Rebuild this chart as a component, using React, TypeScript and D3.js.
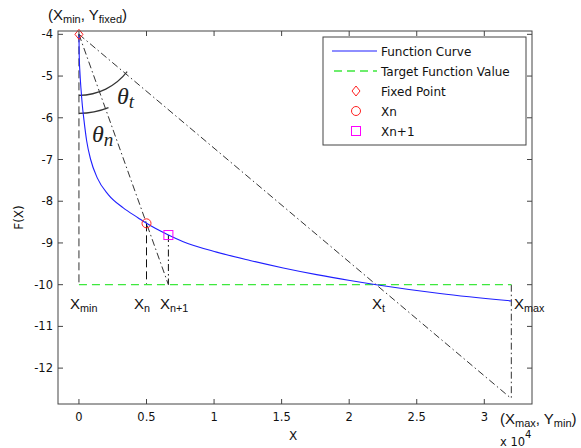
import React from "react";
import * as d3 from "d3";

const width = 581;
const height = 448;
const box = { left: 58, right: 532, top: 31, bottom: 404 };

// curve samples (x in raw units, axis shows x 10^4)
const curveX = [0, 20, 70, 150, 250, 370, 570, 866, 1355, 2170, 3280, 4390, 5000, 6620, 7720, 10190, 12660, 15120, 17590, 20060, 22000, 26720, 32000];
const curveY = [-4, -4.5, -4.9, -5.3, -5.7, -6.05, -6.55, -7.0, -7.44, -7.84, -8.16, -8.4, -8.53, -8.81, -8.97, -9.22, -9.42, -9.6, -9.76, -9.9, -10.0, -10.21, -10.39];

const xTickValues = [0, 5000, 10000, 15000, 20000, 25000, 30000];
const xTickLabels = ["0", "0.5", "1", "1.5", "2", "2.5", "3"];
const yTickValues = [-4, -5, -6, -7, -8, -9, -10, -11, -12];
const yTickLabels = ["-4", "-5", "-6", "-7", "-8", "-9", "-10", "-11", "-12"];

const fixedPoint = [0, -4];
const xnPoint = [5000, -8.53];
const xn1Point = [6620, -8.81];
const xtValue = 22000;
const targetValue = -10;
const xMax = 32000;
const yMin = -12.73;

const legendLabels = ["Function Curve", "Target Function Value", "Fixed Point", "Xn", "Xn+1"];

const x = d3.scaleLinear().domain([-1550, 33530]).range([box.left, box.right]);
const y = d3.scaleLinear().domain([-3.92, -12.86]).range([box.top, box.bottom]);

const font = "'Liberation Sans', Arial, sans-serif";
const tickFont = "'DejaVu Sans', Tahoma, sans-serif";
const dark = "#333";
const dashed = "8,4";
const dashDot = "7,3,1.5,3";

const curvePath = d3
  .line<number>()
  .x((d) => x(d))
  .y((d, i) => y(curveY[i]))
  .curve(d3.curveMonotoneX)(curveX) as string;

const cx = x(fixedPoint[0]);
const cy = y(fixedPoint[1]);

function anglePath(tx: number, ty: number, r: number) {
  const a = Math.atan2(y(ty) - cy, x(tx) - cx);
  const p = d3.path();
  p.moveTo(cx, cy + r);
  p.arc(cx, cy, r, Math.PI / 2, a - 0.04, true);
  return p.toString();
}

const Sub = ({ px, py, main, sub, size = 15 }: any) => (
  <text x={px} y={py} fontFamily={font} fontSize={size} fill="#111">
    {main}
    <tspan dy={3} fontSize={size * 0.72}>{sub}</tspan>
  </text>
);

const App = () => {
  const legendX = 323;
  const legendY = 37;
  const rowY = (i: number) => legendY + 14 + i * 20;

  return (
    <svg width={width} height={height} style={{ position: "absolute", left: 0, top: 0, background: "#fff" }}>
      <rect x={0} y={0} width={width} height={height} fill="#fff" />

      {/* reference lines */}
      <line x1={x(0)} x2={x(0)} y1={y(fixedPoint[1])} y2={y(targetValue)} stroke={dark} strokeDasharray={dashed} />
      <line x1={x(xnPoint[0])} x2={x(xnPoint[0])} y1={y(xnPoint[1])} y2={y(targetValue)} stroke="#111" strokeDasharray={dashed} />
      <line x1={x(xn1Point[0])} x2={x(xn1Point[0])} y1={y(xn1Point[1])} y2={y(targetValue)} stroke="#111" strokeDasharray={dashDot} />
      <line x1={x(xMax)} x2={x(xMax)} y1={y(targetValue)} y2={y(yMin)} stroke={dark} strokeDasharray={dashDot} />
      <line x1={cx} y1={cy} x2={x(xn1Point[0])} y2={y(targetValue)} stroke={dark} strokeDasharray={dashDot} />
      <line x1={cx} y1={cy} x2={x(xMax)} y2={y(yMin)} stroke={dark} strokeDasharray={dashDot} />

      <path d={anglePath(xtValue, targetValue, 61)} fill="none" stroke={dark} strokeWidth={1.2} />
      <path d={anglePath(xnPoint[0], xnPoint[1], 79)} fill="none" stroke={dark} strokeWidth={1.2} />

      <line x1={x(0)} x2={x(xMax)} y1={y(targetValue)} y2={y(targetValue)} stroke="#3ee83e" strokeWidth={1.3} strokeDasharray="8,5" />
      <path d={curvePath} fill="none" stroke="#1f1fff" strokeWidth={1.1} />

      {/* markers */}
      <path
        d={`M${cx},${cy - 5}L${cx + 4},${cy}L${cx},${cy + 5}L${cx - 4},${cy}Z`}
        fill="none"
        stroke="#ff2020"
      />
      <circle cx={x(xnPoint[0])} cy={y(xnPoint[1])} r={4.5} fill="none" stroke="#ff2020" />
      <rect x={x(xn1Point[0]) - 4.5} y={y(xn1Point[1]) - 4.5} width={9} height={9} fill="none" stroke="#ff00ff" />

      {/* angle labels */}
      <text x={117} y={104} fontFamily="'Liberation Serif', serif" fontStyle="italic" fontSize={24} fill="#222">
        θ<tspan dy={4} fontSize={19}>t</tspan>
      </text>
      <text x={92} y={142} fontFamily="'Liberation Serif', serif" fontStyle="italic" fontSize={24} fill="#222">
        θ<tspan dy={4} fontSize={19}>n</tspan>
      </text>

      {/* axes box with inward ticks */}
      <rect x={box.left} y={box.top} width={box.right - box.left} height={box.bottom - box.top} fill="none" stroke="#444" />
      {xTickValues.map((v, i) => (
        <g key={"xt" + v}>
          <line x1={x(v)} x2={x(v)} y1={box.bottom} y2={box.bottom - 5} stroke="#444" />
          <line x1={x(v)} x2={x(v)} y1={box.top} y2={box.top + 5} stroke="#444" />
          <text x={x(v)} y={421} textAnchor="middle" fontFamily={tickFont} fontSize={11.5} fill="#111">
            {xTickLabels[i]}
          </text>
        </g>
      ))}
      {yTickValues.map((v, i) => (
        <g key={"yt" + v}>
          <line x1={box.left} x2={box.left + 5} y1={y(v)} y2={y(v)} stroke="#444" />
          <line x1={box.right} x2={box.right - 5} y1={y(v)} y2={y(v)} stroke="#444" />
          <text x={53} y={y(v) + 4} textAnchor="end" fontFamily={tickFont} fontSize={11.5} fill="#111">
            {yTickLabels[i]}
          </text>
        </g>
      ))}

      <text x={293} y={440} textAnchor="middle" fontFamily={tickFont} fontSize={12} fill="#111">X</text>
      <text transform={`translate(23,${(box.top + box.bottom) / 2}) rotate(-90)`} textAnchor="middle" fontFamily={tickFont} fontSize={12} fill="#111">
        F(X)
      </text>
      <text x={500} y={446} fontFamily={tickFont} fontSize={11.5} fill="#111">
        x 10<tspan dy={-8} fontSize={10}>4</tspan>
      </text>

      {/* point labels */}
      <text x={48} y={20} fontFamily={font} fontSize={15} fill="#111">
        (X<tspan dy={3} fontSize={11}>min</tspan>
        <tspan dy={-3}>, Y</tspan>
        <tspan dy={3} fontSize={11}>fixed</tspan>
        <tspan dy={-3}>)</tspan>
      </text>
      <text x={500} y={424} fontFamily={font} fontSize={15} fill="#111">
        (X<tspan dy={3} fontSize={11}>max</tspan>
        <tspan dy={-3}>, Y</tspan>
        <tspan dy={3} fontSize={11}>min</tspan>
        <tspan dy={-3}>)</tspan>
      </text>
      <Sub px={70} py={309} main="X" sub="min" />
      <Sub px={134} py={309} main="X" sub="n" />
      <Sub px={160} py={309} main="X" sub="n+1" />
      <Sub px={372} py={309} main="X" sub="t" />
      <Sub px={514} py={309} main="X" sub="max" />

      {/* legend */}
      <rect x={legendX} y={legendY} width={203} height={108} fill="#fff" stroke="#444" />
      <line x1={332} x2={377} y1={rowY(0)} y2={rowY(0)} stroke="#1f1fff" strokeWidth={1.1} />
      <line x1={334} x2={377} y1={rowY(1)} y2={rowY(1)} stroke="#3ee83e" strokeWidth={1.3} strokeDasharray="8,5" />
      <path
        d={`M356,${rowY(2) - 5}L360,${rowY(2)}L356,${rowY(2) + 5}L352,${rowY(2)}Z`}
        fill="none"
        stroke="#ff2020"
      />
      <circle cx={356} cy={rowY(3)} r={4.5} fill="none" stroke="#ff2020" />
      <rect x={351.5} y={rowY(4) - 4.5} width={9} height={9} fill="none" stroke="#ff00ff" />
      {legendLabels.map((label, i) => (
        <text key={label} x={381} y={rowY(i) + 5} fontFamily={tickFont} fontSize={12} fill="#111">
          {label}
        </text>
      ))}
    </svg>
  );
};

export default App;
